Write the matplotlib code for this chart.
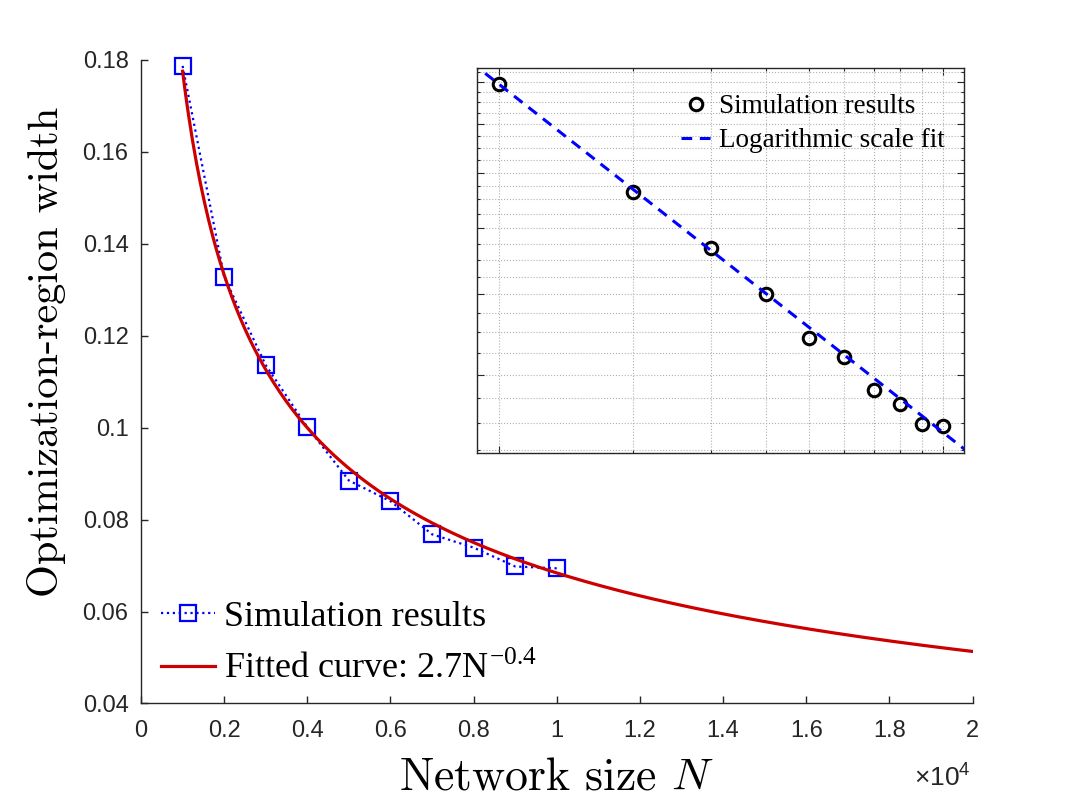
import numpy as np
import matplotlib.pyplot as plt
from matplotlib.ticker import FixedLocator, FuncFormatter, NullFormatter

plt.rcParams['mathtext.fontset'] = 'custom'
plt.rcParams['mathtext.rm'] = 'Liberation Serif'
plt.rcParams['mathtext.it'] = 'cmmi10'
plt.rcParams['mathtext.sf'] = 'Liberation Sans'

# simulation results
network_size = [1000, 2000, 3000, 4000, 5000, 6000, 7000, 8000, 9000, 10000]
region_width = [0.1787, 0.1328, 0.1136, 0.1001, 0.0885, 0.0840, 0.0768, 0.0739, 0.0698, 0.0694]

# power-law fit (red curve) and the log-scale fit line of the inset
fit_coef, fit_exp = 3.106, -0.4143
log_fit_coef, log_fit_exp = 3.20, -0.4177

main_xticks = [0, 2000, 4000, 6000, 8000, 10000, 12000, 14000, 16000, 18000, 20000]
main_yticks = [0.04, 0.06, 0.08, 0.10, 0.12, 0.14, 0.16, 0.18]

axis_col = '#262626'
tick_font = 'Liberation Sans'
serif = 'Liberation Serif'

fig = plt.figure(figsize=(10.75, 8.07), dpi=100)
ax = fig.add_axes([0.1312, 0.1283, 0.7735, 0.7974])

N_fit = np.linspace(1000, 20000, 400)
ax.plot(network_size, region_width, linestyle=':', color='blue', lw=1.6, clip_on=False,
        marker='s', ms=11, mfc='none', mec='blue', mew=1.6, label='Simulation results')
ax.plot(N_fit, fit_coef * N_fit ** fit_exp, color='#cc0000', lw=2.3,
        label='Fitted curve: 2.7N$^{-0.4}$')

ax.set_xlim(0, 20000)
ax.set_ylim(0.04, 0.18)
ax.xaxis.set_major_locator(FixedLocator(main_xticks))
ax.yaxis.set_major_locator(FixedLocator(main_yticks))
ax.xaxis.set_major_formatter(FuncFormatter(lambda v, p: '%g' % (v / 1e4)))
ax.yaxis.set_major_formatter(FuncFormatter(lambda v, p: '%g' % round(v, 2)))
ax.tick_params(direction='in', length=5, width=1, colors=axis_col, labelsize=17)
ax.tick_params(axis='x', pad=12)
ax.tick_params(axis='y', pad=9)
for lab in ax.get_xticklabels() + ax.get_yticklabels():
    lab.set_fontfamily(tick_font)
for s in ['top', 'right']:
    ax.spines[s].set_visible(False)
for s in ['left', 'bottom']:
    ax.spines[s].set_color(axis_col)
    ax.spines[s].set_linewidth(1)

ax.set_xlabel('Network size $N$', fontfamily='cmr10', fontsize=33, labelpad=10.5)
ax.set_ylabel('Optimization-region width', fontfamily='cmr10', fontsize=30.5)
ax.yaxis.set_label_coords(-0.090, 0.546)
fig.text(0.9033, 0.0251, r'×$\mathsf{10^{4}}$', fontfamily=tick_font, fontsize=19,
         color=axis_col, ha='right', va='baseline')

ax.legend(loc='lower left', bbox_to_anchor=(0.004, 0.0), frameon=False,
          prop={'family': serif, 'size': 26}, handlelength=1.5, handletextpad=0.25,
          labelspacing=0.5, numpoints=1, borderaxespad=0.06)

# inset: log-log view
ins = fig.add_axes([0.444, 0.439, 0.4527, 0.4763])
N_log = np.logspace(np.log10(800), np.log10(12000), 60)
ins.plot(network_size, region_width, linestyle='none', marker='o', ms=9,
         mfc='none', mec='black', mew=2.2, label='Simulation results')
ins.plot(N_log, log_fit_coef * N_log ** log_fit_exp, linestyle=(0, (3.5, 2.5)),
         color='blue', lw=2.2, label='Logarithmic scale fit')
ins.set_xscale('log')
ins.set_yscale('log')
ins.set_xlim(892, 11170)
ins.set_ylim(0.0645, 0.1868)
ins.xaxis.set_major_locator(FixedLocator([1000, 10000]))
ins.xaxis.set_minor_locator(FixedLocator(network_size))
ins.yaxis.set_major_locator(FixedLocator([0.08, 0.10, 0.12, 0.14, 0.16, 0.18]))
ins.yaxis.set_minor_locator(FixedLocator(np.arange(0.065, 0.1851, 0.005)))
for a in [ins.xaxis, ins.yaxis]:
    a.set_major_formatter(NullFormatter())
    a.set_minor_formatter(NullFormatter())
ins.tick_params(which='both', direction='in', top=True, right=True, colors=axis_col, width=0.8)
ins.tick_params(which='major', length=5)
ins.tick_params(which='minor', length=2.5)
ins.grid(True, which='both', linestyle=':', color='#b0b0b0', lw=0.8)
for s in ins.spines.values():
    s.set_color(axis_col)
    s.set_linewidth(1)
ins.legend(loc='upper right', bbox_to_anchor=(0.961, 0.932), frameon=False,
           prop={'family': serif, 'size': 19.5}, handlelength=1.1, handletextpad=0.3,
           labelspacing=0.32, numpoints=1, borderaxespad=0, borderpad=0)

fig.savefig('out.png', dpi=100)
